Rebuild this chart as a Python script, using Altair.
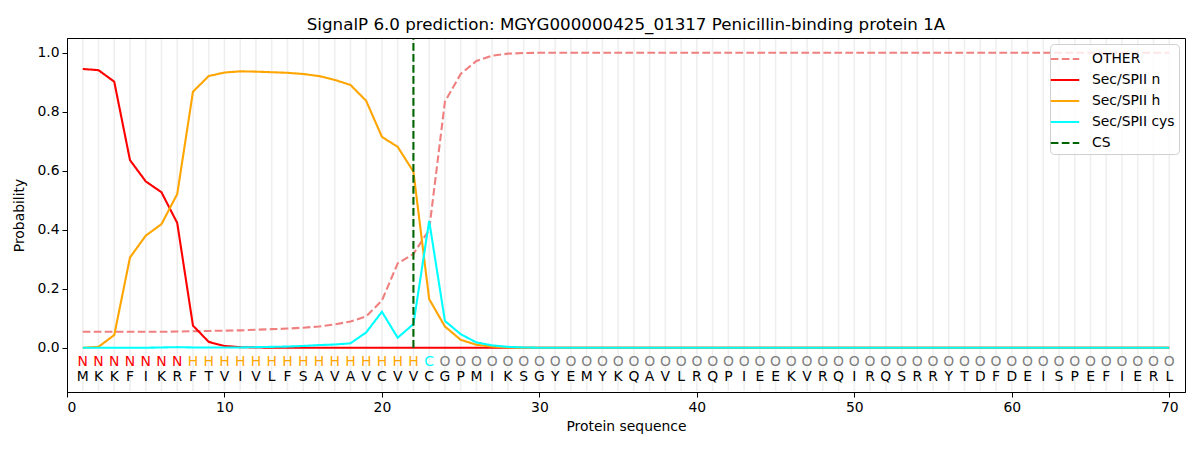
import altair as alt
import pandas as pd

positions = list(range(1, 71))
residues = list("MKKFIKRFTVIVLFSAVAVCVVCGPMIKSGYEMYKQAVLRQPIEEKVRQIRQSRRYTDFDEISPEFIERL")
regions = list("NNNNNNN" + "HHHHHHHHHHHHHHH" + "C" + "OOOOOOOOOOOOOOOOOOOOOOOOOOOOOOOOOOOOOOOOOOOOOOO")

other = [0.054, 0.054, 0.054, 0.054, 0.054, 0.054, 0.055, 0.056, 0.057, 0.058,
         0.059, 0.061, 0.063, 0.065, 0.068, 0.072, 0.079, 0.089, 0.106, 0.160,
         0.286, 0.318, 0.400, 0.834, 0.928, 0.972, 0.990, 0.997, 0.999, 1.000,
         1.000, 1.000, 1.000, 1.000, 1.000, 1.000, 1.000, 1.000, 1.000, 1.000,
         1.000, 1.000, 1.000, 1.000, 1.000, 1.000, 1.000, 1.000, 1.000, 1.000,
         1.000, 1.000, 1.000, 1.000, 1.000, 1.000, 1.000, 1.000, 1.000, 1.000,
         1.000, 1.000, 1.000, 1.000, 1.000, 1.000, 1.000, 1.000, 1.000, 1.000]
sec_n = [0.945, 0.941, 0.902, 0.636, 0.564, 0.527, 0.423, 0.075, 0.020, 0.006,
         0.002, 0.001, 0.0, 0.0, 0.0, 0.0, 0.0, 0.0, 0.0, 0.0,
         0.0, 0.0, 0.0, 0.0, 0.0, 0.0, 0.0, 0.0, 0.0, 0.0,
         0.0, 0.0, 0.0, 0.0, 0.0, 0.0, 0.0, 0.0, 0.0, 0.0,
         0.0, 0.0, 0.0, 0.0, 0.0, 0.0, 0.0, 0.0, 0.0, 0.0,
         0.0, 0.0, 0.0, 0.0, 0.0, 0.0, 0.0, 0.0, 0.0, 0.0,
         0.0, 0.0, 0.0, 0.0, 0.0, 0.0, 0.0, 0.0, 0.0, 0.0]
sec_h = [0.0, 0.003, 0.043, 0.306, 0.380, 0.419, 0.521, 0.868, 0.921, 0.933,
         0.937, 0.936, 0.934, 0.932, 0.928, 0.921, 0.908, 0.891, 0.837, 0.715,
         0.681, 0.597, 0.165, 0.072, 0.027, 0.010, 0.004, 0.001, 0.0, 0.0,
         0.0, 0.0, 0.0, 0.0, 0.0, 0.0, 0.0, 0.0, 0.0, 0.0,
         0.0, 0.0, 0.0, 0.0, 0.0, 0.0, 0.0, 0.0, 0.0, 0.0,
         0.0, 0.0, 0.0, 0.0, 0.0, 0.0, 0.0, 0.0, 0.0, 0.0,
         0.0, 0.0, 0.0, 0.0, 0.0, 0.0, 0.0, 0.0, 0.0, 0.0]
sec_cys = [0.0, 0.0, 0.0, 0.0, 0.0, 0.001, 0.002, 0.001, 0.001, 0.001,
           0.001, 0.002, 0.003, 0.004, 0.006, 0.009, 0.011, 0.015, 0.052, 0.122,
           0.034, 0.080, 0.430, 0.091, 0.046, 0.018, 0.008, 0.003, 0.001, 0.0,
           0.0, 0.0, 0.0, 0.0, 0.0, 0.0, 0.0, 0.0, 0.0, 0.0,
           0.0, 0.0, 0.0, 0.0, 0.0, 0.0, 0.0, 0.0, 0.0, 0.0,
           0.0, 0.0, 0.0, 0.0, 0.0, 0.0, 0.0, 0.0, 0.0, 0.0,
           0.0, 0.0, 0.0, 0.0, 0.0, 0.0, 0.0, 0.0, 0.0, 0.0]
cs_position = [22]

series_names = ["OTHER", "Sec/SPII n", "Sec/SPII h", "Sec/SPII cys", "CS"]
series_colors = ["#f08080", "#ff0000", "#ffa500", "#00ffff", "#006400"]
series_dashes = [[7.7, 3.3], [1, 0], [1, 0], [1, 0], [7.7, 3.3]]
region_colors = {"N": "#ff0000", "H": "#ffa500", "C": "#00ffff", "O": "#808080"}
x_ticks = [0, 10, 20, 30, 40, 50, 60, 70]
y_ticks = [0.0, 0.2, 0.4, 0.6, 0.8, 1.0]

W, H = 1118, 354
FONT = "DejaVu Sans"

rows = []
for name, vals in zip(series_names[:4], [other, sec_n, sec_h, sec_cys]):
    for p, v in zip(positions, vals):
        rows.append({"pos": p, "prob": v, "series": name})
lines_df = pd.DataFrame(rows)
seq_df = pd.DataFrame({"pos": positions, "residue": residues, "region": regions})
cs_df = pd.DataFrame({"pos": cs_position, "series": ["CS"]})

xscale = alt.Scale(domain=[0, 71], nice=False, zero=False)
yscale = alt.Scale(domain=[-0.15, 1.05], nice=False, zero=False)

color = alt.Color("series:N", scale=alt.Scale(domain=series_names, range=series_colors),
                  title=None)
dash = alt.StrokeDash("series:N", scale=alt.Scale(domain=series_names, range=series_dashes),
                      title=None)

grid = alt.Chart(seq_df).mark_rule(color="#efefef", strokeWidth=1.6).encode(
    x=alt.X("pos:Q", scale=xscale,
            axis=alt.Axis(values=x_ticks, title="Protein sequence", grid=False,
                          format="d")),
    y=alt.value(1), y2=alt.value(H - 1),
)

lines = alt.Chart(lines_df).mark_line(strokeWidth=2.1).encode(
    x=alt.X("pos:Q", scale=xscale),
    y=alt.Y("prob:Q", scale=yscale,
            axis=alt.Axis(values=y_ticks, format=".1f", title="Probability", grid=False)),
    color=color,
    strokeDash=dash,
)

cs_rule = alt.Chart(cs_df).mark_rule(strokeWidth=2.1).encode(
    x=alt.X("pos:Q", scale=xscale),
    y=alt.datum(0), y2=alt.value(1),
    color=color,
    strokeDash=dash,
)

region_layers = []
for reg, col in region_colors.items():
    region_layers.append(
        alt.Chart(seq_df).transform_filter(alt.datum.region == reg)
        .mark_text(fontSize=13.9, color=col, baseline="middle", font=FONT)
        .encode(x=alt.X("pos:Q", scale=xscale), y=alt.datum(-0.047), text="region:N")
    )

residue_text = alt.Chart(seq_df).mark_text(
    fontSize=13.9, color="black", baseline="middle", font=FONT
).encode(x=alt.X("pos:Q", scale=xscale), y=alt.datum(-0.1), text="residue:N")

chart = alt.layer(grid, lines, cs_rule, *region_layers, residue_text).properties(
    width=W, height=H,
    title=alt.TitleParams(
        "SignalP 6.0 prediction: MGYG000000425_01317 Penicillin-binding protein 1A",
        fontSize=16.7, fontWeight="normal", font=FONT, offset=4, color="black"),
    autosize=alt.AutoSizeParams(type="none"),
    padding={"left": 59, "top": 30, "right": 7, "bottom": 50},
).configure_view(stroke="black", strokeWidth=1).configure_axis(
    labelFont=FONT, titleFont=FONT, labelFontSize=13.9, titleFontSize=13.9,
    titleFontWeight="normal", labelColor="black", titleColor="black",
    domainColor="black", tickColor="black", tickSize=5, labelPadding=3,
).configure_axisY(titlePadding=10).configure_axisX(titlePadding=6).configure_legend(
    orient="top-right", offset=6, fillColor="rgba(255,255,255,0.8)", strokeColor="#d0d0d0",
    cornerRadius=4, padding=4, labelFont=FONT, labelFontSize=13.9, labelColor="black",
    symbolType="M-1.5,0H1.5", symbolSize=361, symbolStrokeWidth=2.1, labelOffset=16,
    rowPadding=3,
)

chart.save("out.html", embed_options={"renderer": "svg", "actions": False})
